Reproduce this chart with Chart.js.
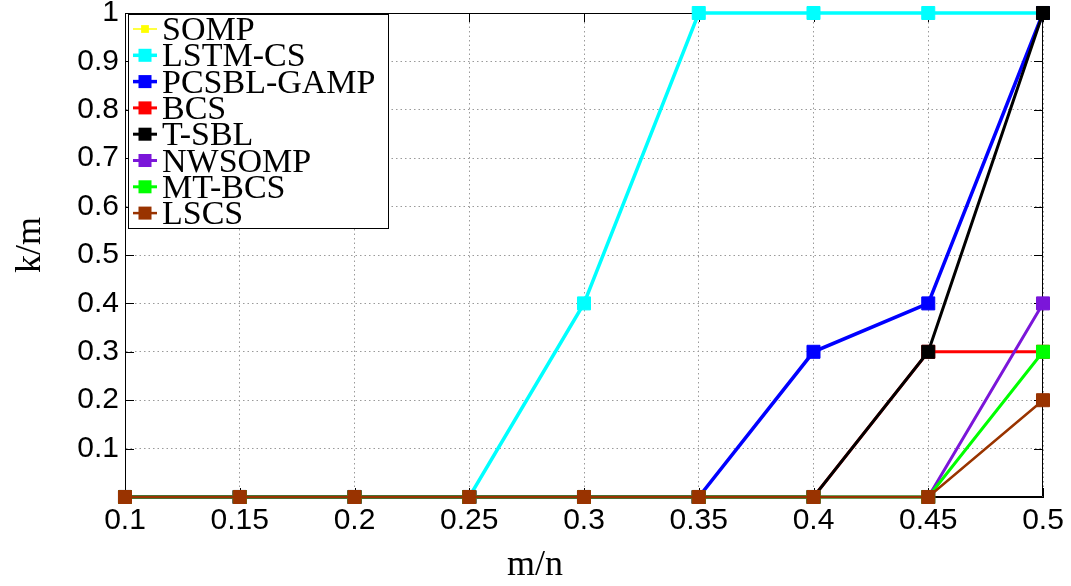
<!DOCTYPE html>
<html><head><meta charset="utf-8">
<script src="https://cdn.jsdelivr.net/npm/chart.js@4/dist/chart.umd.min.js"></script>
<style>html,body{margin:0;padding:0;background:#fff}#wrap{width:1071px;height:586px;position:relative}</style>
</head><body><div id="wrap"><canvas id="c" width="1071" height="586"></canvas></div>
<script>
// ---- data ----
const xValues = [0.1, 0.15, 0.2, 0.25, 0.3, 0.35, 0.4, 0.45, 0.5];
const xTickValues = [0.1, 0.15, 0.2, 0.25, 0.3, 0.35, 0.4, 0.45, 0.5];
const xTickLabels = ['0.1', '0.15', '0.2', '0.25', '0.3', '0.35', '0.4', '0.45', '0.5'];
const yTickValues = [0, 0.1, 0.2, 0.3, 0.4, 0.5, 0.6, 0.7, 0.8, 0.9, 1];
const yTickLabels = ['', '0.1', '0.2', '0.3', '0.4', '0.5', '0.6', '0.7', '0.8', '0.9', '1'];
const xTitle = 'm/n';
const yTitle = 'k/m';

const seriesNames = ['SOMP', 'LSTM-CS', 'PCSBL-GAMP', 'BCS', 'T-SBL', 'NWSOMP', 'MT-BCS', 'LSCS'];
const sompValues      = [0, 0, 0, 0, 0,   0, 0,   0,   0.2];
const lstmcsValues    = [0, 0, 0, 0, 0.4, 1, 1,   1,   1];
const pcsblValues     = [0, 0, 0, 0, 0,   0, 0.3, 0.4, 1];
const bcsValues       = [0, 0, 0, 0, 0,   0, 0,   0.3, 0.3];
const tsblValues      = [0, 0, 0, 0, 0,   0, 0,   0.3, 1];
const nwsompValues    = [0, 0, 0, 0, 0,   0, 0,   0,   0.4];
const mtbcsValues     = [0, 0, 0, 0, 0,   0, 0,   0,   0.3];
const lscsValues      = [0, 0, 0, 0, 0,   0, 0,   0,   0.2];
const seriesValues = [sompValues, lstmcsValues, pcsblValues, bcsValues, tsblValues, nwsompValues, mtbcsValues, lscsValues];

// ---- styles ----
const seriesColors = ['#ffff00', '#00ffff', '#0000ff', '#ff0000', '#000000', '#7b16d9', '#00ff00', '#993300'];
const seriesWidths = [1.5, 3.5, 3.5, 3, 3, 3, 3, 2.5];
const seriesRadius = [5.5, 9.2, 9.2, 9.2, 9.2, 9.2, 9.2, 9.2];

const datasets = seriesNames.map((name, i) => ({
  label: name,
  data: xValues.map((x, j) => ({x: x, y: seriesValues[i][j]})),
  borderColor: seriesColors[i],
  backgroundColor: seriesColors[i],
  borderWidth: seriesWidths[i],
  pointStyle: 'rect',
  pointRadius: seriesRadius[i],
  pointHoverRadius: seriesRadius[i],
  pointBackgroundColor: seriesColors[i],
  pointBorderColor: seriesColors[i],
  pointBorderWidth: 1,
  tension: 0,
  clip: false,
  order: seriesNames.length - i
}));

const SANS = '"Liberation Sans", Arial, sans-serif';
const SERIF = '"Liberation Serif", "Times New Roman", serif';

const framePlugin = {
  id: 'frame',
  beforeDatasetsDraw(chart) {
    const {ctx, chartArea: a, scales} = chart;
    ctx.save();
    ctx.strokeStyle = '#000';
    ctx.lineWidth = 1;
    ctx.beginPath();
    ctx.rect(a.left + 0.5, a.top + 0.5, a.right - a.left - 1, a.bottom - a.top - 1);
    ctx.stroke();
    const tl = 9;
    ctx.beginPath();
    yTickValues.forEach(v => {
      const y = Math.round(scales.y.getPixelForValue(v)) + 0.5;
      ctx.moveTo(a.left, y); ctx.lineTo(a.left + tl, y);
      ctx.moveTo(a.right, y); ctx.lineTo(a.right - tl, y);
    });
    xTickValues.forEach(v => {
      const x = Math.round(scales.x.getPixelForValue(v)) + 0.5;
      ctx.moveTo(x, a.bottom); ctx.lineTo(x, a.bottom - tl);
      ctx.moveTo(x, a.top); ctx.lineTo(x, a.top + tl);
    });
    ctx.stroke();
    ctx.restore();
  },
  afterDraw(chart) {
    const {ctx} = chart;
    ctx.save();
    // axis titles
    ctx.fillStyle = '#000';
    ctx.font = '36px ' + SERIF;
    ctx.textAlign = 'center';
    ctx.textBaseline = 'alphabetic';
    ctx.fillText(xTitle, 535, 575);
    ctx.save();
    ctx.translate(40, 245);
    ctx.rotate(-Math.PI / 2);
    ctx.fillText(yTitle, 0, 0);
    ctx.restore();
    // legend
    const bx = 128.5, by = 14.5, bw = 260, bh = 214;
    ctx.fillStyle = '#fff';
    ctx.fillRect(bx, by, bw, bh);
    ctx.strokeStyle = '#000';
    ctx.lineWidth = 1;
    ctx.strokeRect(bx, by, bw, bh);
    ctx.font = '34px ' + SERIF;
    ctx.textAlign = 'left';
    chart.data.datasets.forEach((ds, i) => {
      const cy = 29 + i * 26.3;
      ctx.strokeStyle = ds.borderColor;
      ctx.lineWidth = ds.borderWidth;
      ctx.beginPath();
      ctx.moveTo(133, cy); ctx.lineTo(157, cy);
      ctx.stroke();
      const s = ds.pointRadius * Math.SQRT1_2;
      ctx.fillStyle = ds.pointBackgroundColor;
      ctx.fillRect(145 - s, cy - s, 2 * s, 2 * s);
      ctx.fillStyle = '#000';
      ctx.fillText(ds.label, 162, cy + 11);
    });
    ctx.restore();
  }
};

new Chart(document.getElementById('c'), {
  type: 'line',
  data: {datasets},
  options: {
    responsive: false,
    animation: false,
    devicePixelRatio: 1,
    layout: {padding: {top: 13, right: 28, left: 0, bottom: 0}},
    plugins: {legend: {display: false}, tooltip: {enabled: false}, title: {display: false}},
    scales: {
      x: {
        type: 'linear', min: 0.1, max: 0.5,
        afterBuildTicks: s => { s.ticks = xTickValues.map(v => ({value: v})); },
        afterFit: s => { s.height = 89; s.paddingLeft = 0; s.paddingRight = 0; },
        ticks: {
          callback: (v) => { const k = xTickValues.findIndex(t => Math.abs(t - v) < 1e-9); return k >= 0 ? xTickLabels[k] : ''; },
          font: {family: SANS, size: 30}, color: '#000', padding: 6, maxRotation: 0, autoSkip: false
        },
        grid: {color: '#9a9a9a', lineWidth: 1, drawTicks: false},
        border: {display: true, color: '#000', width: 1, dash: [1.5, 3]}
      },
      y: {
        type: 'linear', min: 0, max: 1,
        afterBuildTicks: s => { s.ticks = yTickValues.map(v => ({value: v})); },
        afterFit: s => { s.width = 125; s.paddingTop = 0; s.paddingBottom = 0; },
        ticks: {
          callback: (v) => { const k = yTickValues.findIndex(t => Math.abs(t - v) < 1e-9); return k >= 0 ? yTickLabels[k] : ''; },
          font: {family: SANS, size: 30}, color: '#000', padding: 6, autoSkip: false
        },
        grid: {color: '#9a9a9a', lineWidth: 1, drawTicks: false},
        border: {display: true, color: '#000', width: 1, dash: [1.5, 3]}
      }
    }
  },
  plugins: [framePlugin]
});
</script>
</body></html>
